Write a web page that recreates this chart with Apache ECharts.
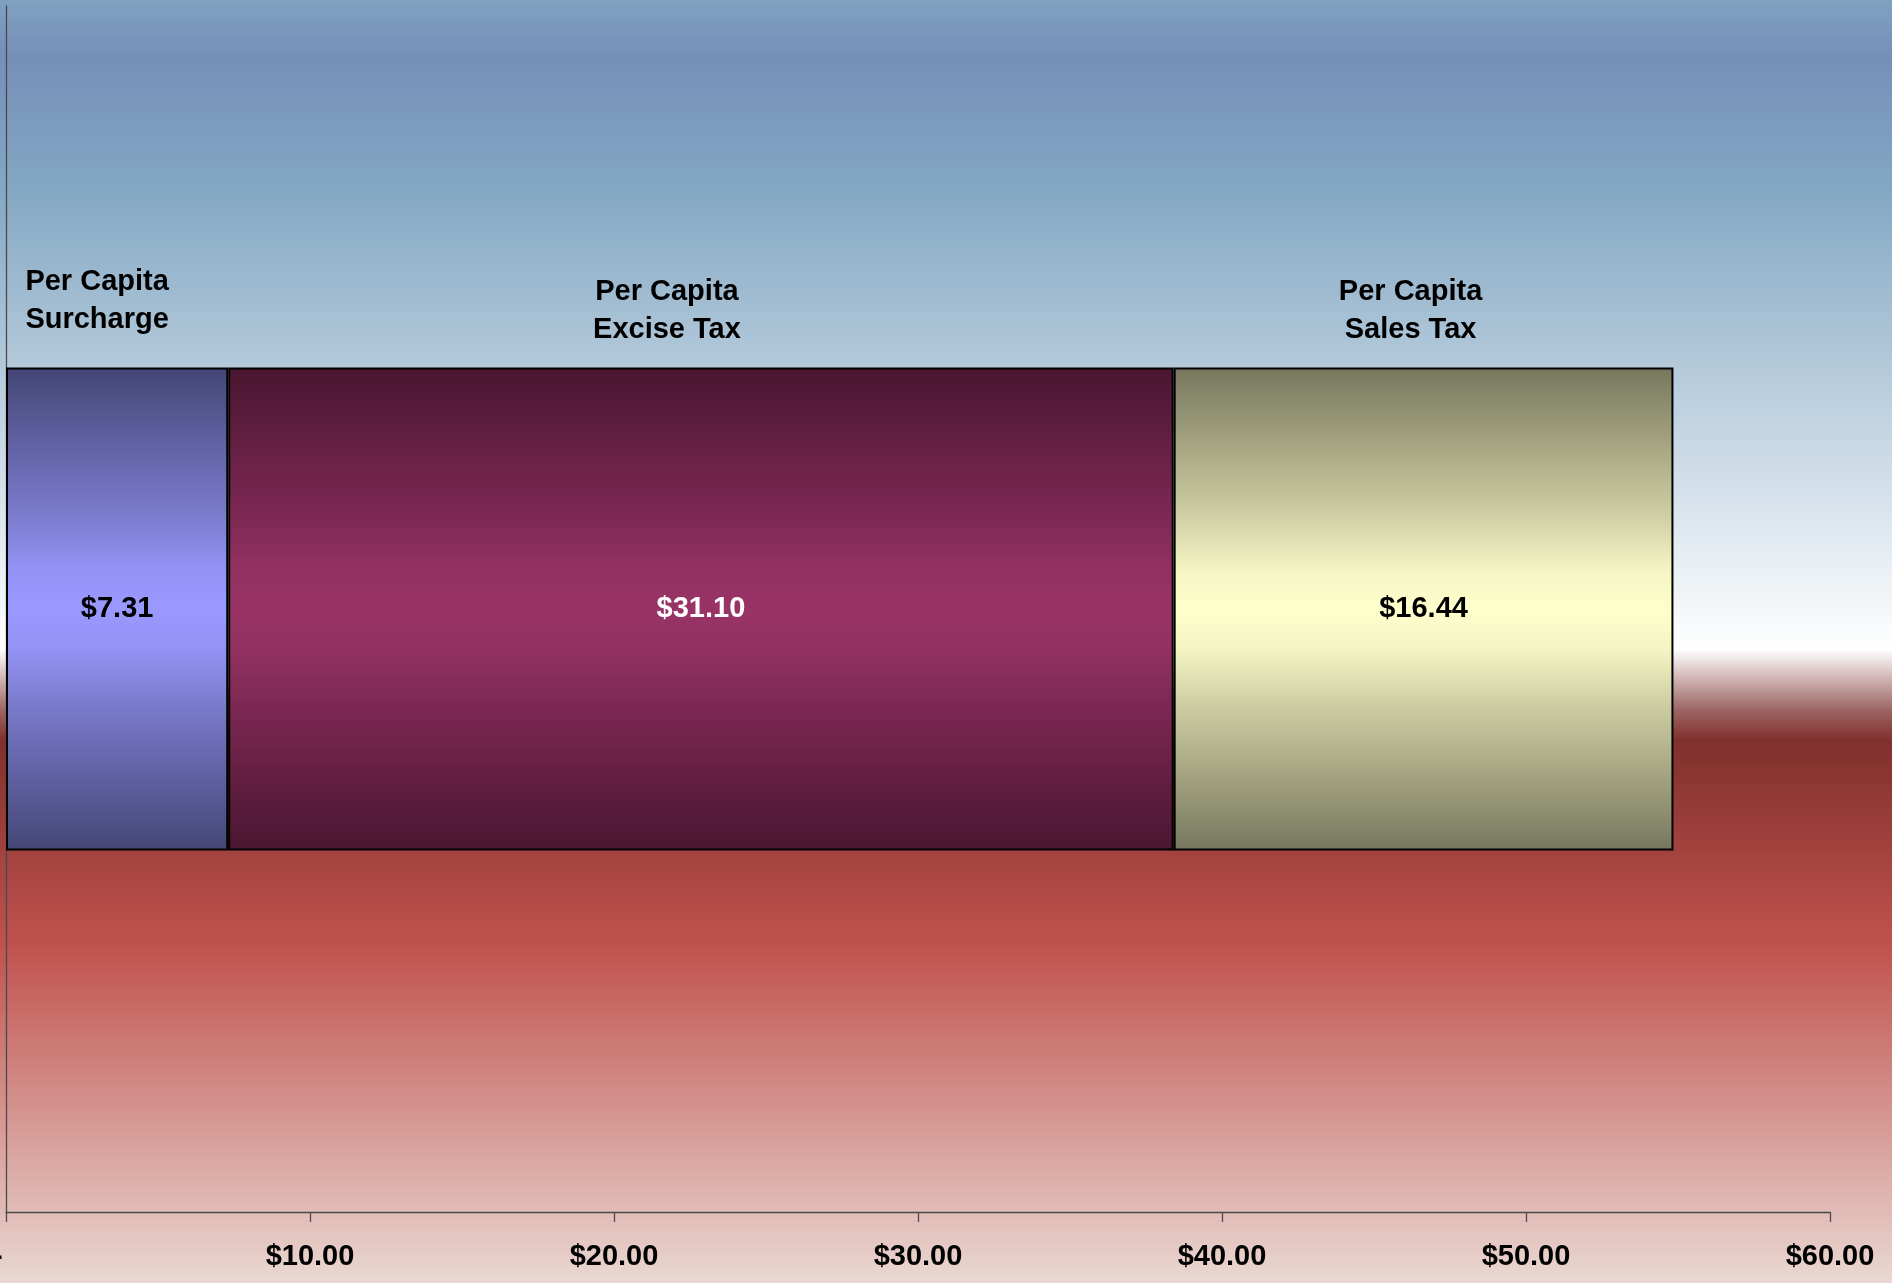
<!DOCTYPE html>
<html>
<head>
<meta charset="utf-8">
<script src="https://cdn.jsdelivr.net/npm/echarts@6/dist/echarts.min.js"></script>
<style>
  html, body { margin: 0; padding: 0; }
  #chart { width: 1892px; height: 1283px; }
</style>
</head>
<body>
<div id="chart"></div>
<script>
// Per capita tax components, stacked along one horizontal bar
const categories = ['Per Capita Total'];
const seriesNames = ['Per Capita\nSurcharge', 'Per Capita\nExcise Tax', 'Per Capita\nSales Tax'];
const seriesValues = [7.31, 31.10, 16.44];
const tickValues = [0, 10, 20, 30, 40, 50, 60];
const tickLabels = ['-  ', '$10.00', '$20.00', '$30.00', '$40.00', '$50.00', '$60.00'];

// Fill colours: centre tone and darker edge tone for each segment
const centreColors = ['#9999FF', '#993366', '#FFFFCC'];
const edgeColors = ['#454675', '#4A1630', '#77775E'];
const valueLabelColors = ['#000000', '#FFFFFF', '#000000'];
// Nudges for the series-name captions above each segment
const captionOffsets = [[-20, -308], [-34, -298], [-13, -298]];

const FONT = '"Liberation Sans", Arial, Helvetica, sans-serif';

const chart = echarts.init(document.getElementById('chart'), null, { renderer: 'canvas' });

function hexToRgb(h) {
  return [parseInt(h.slice(1, 3), 16), parseInt(h.slice(3, 5), 16), parseInt(h.slice(5, 7), 16)];
}
function mix(a, b, t) {
  const A = hexToRgb(a), B = hexToRgb(b);
  return 'rgb(' + A.map(function (c, k) { return Math.round(c + (B[k] - c) * t); }).join(',') + ')';
}

// Shaded from the centre outwards, flatter near the middle
function barFill(i) {
  const c = centreColors[i], e = edgeColors[i];
  return new echarts.graphic.LinearGradient(0, 0, 0, 1, [
    { offset: 0, color: e },
    { offset: 0.3, color: mix(c, e, 0.37) },
    { offset: 0.42, color: mix(c, e, 0.07) },
    { offset: 0.5, color: c },
    { offset: 0.58, color: mix(c, e, 0.07) },
    { offset: 0.7, color: mix(c, e, 0.37) },
    { offset: 1, color: e }
  ]);
}

let running = 0;
const series = seriesValues.map(function (v, i) {
  const start = running;
  running += v;
  const mid = start + v / 2;
  return {
    name: seriesNames[i],
    type: 'bar',
    stack: 'total',
    barWidth: 483,
    data: [v],
    itemStyle: {
      color: barFill(i),
      borderColor: '#000000',
      borderWidth: 2
    },
    label: {
      show: true,
      position: 'inside',
      formatter: function (p) { return '$' + p.value.toFixed(2); },
      fontFamily: FONT,
      fontWeight: 'bold',
      fontSize: 29,
      color: valueLabelColors[i]
    },
    markPoint: {
      symbol: 'circle',
      symbolSize: 1,
      itemStyle: { color: 'rgba(0,0,0,0)' },
      silent: true,
      data: [{
        coord: [mid, categories[0]],
        label: {
          show: true,
          position: 'inside',
          formatter: seriesNames[i],
          offset: captionOffsets[i],
          fontFamily: FONT,
          fontWeight: 'bold',
          fontSize: 29,
          lineHeight: 38,
          align: 'center',
          color: '#000000'
        }
      }]
    }
  };
});

const option = {
  animation: false,
  backgroundColor: 'transparent',
  graphic: [{
    type: 'rect',
    z: -10,
    silent: true,
    shape: { x: 0, y: 0, width: 1892, height: 1283 },
    style: {
      fill: new echarts.graphic.LinearGradient(0, 0, 0, 1, [
        { offset: 0, color: '#80A1C0' },
        { offset: 0.0444, color: '#768FB9' },
        { offset: 0.1453, color: '#83A7C3' },
        { offset: 0.5061, color: '#FFFFFF' },
        { offset: 0.5534, color: '#9C6563' },
        { offset: 0.5771, color: '#80302D' },
        { offset: 0.7369, color: '#C0524E' },
        { offset: 1, color: '#EAD8D2' }
      ])
    }
  }],
  grid: { left: 6, right: 62, top: 6, bottom: 71, containLabel: false, outerBoundsMode: 'none' },
  xAxis: {
    type: 'value',
    min: 0,
    max: 60,
    interval: 10,
    axisLine: { show: true, lineStyle: { color: '#4a4a4a', width: 1.3 } },
    axisTick: { show: true, length: 10, lineStyle: { color: '#4a4a4a', width: 1.3 } },
    splitLine: { show: false },
    axisLabel: {
      margin: 30,
      fontFamily: FONT,
      fontWeight: 'bold',
      fontSize: 29,
      color: '#000000',
      formatter: function (v) {
        const idx = tickValues.indexOf(v);
        return idx >= 0 ? tickLabels[idx] : '';
      }
    }
  },
  yAxis: {
    type: 'category',
    data: categories,
    axisLine: { show: true, lineStyle: { color: '#4a4a4a', width: 1.3 } },
    axisTick: { show: false },
    axisLabel: { show: false },
    splitLine: { show: false }
  },
  series: series
};

chart.setOption(option);
</script>
</body>
</html>
